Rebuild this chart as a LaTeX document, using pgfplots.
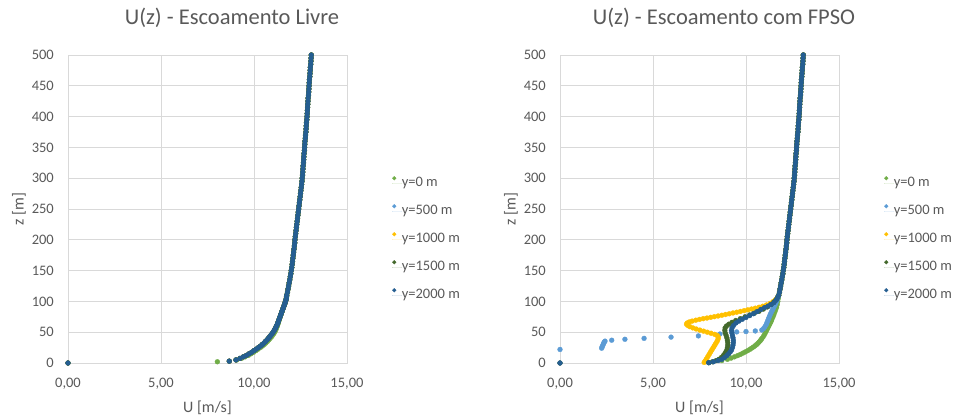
\documentclass[border=0pt]{standalone}
\usepackage{pgfplots}
\pgfplotsset{compat=1.18}
\usepackage{pgfplotstable}
\usepackage{fontspec}
\setmainfont{Carlito}
\definecolor{cgreen}{HTML}{70AD47}
\definecolor{cblue}{HTML}{5B9BD5}
\definecolor{cgold}{HTML}{FFC000}
\definecolor{cdgreen}{HTML}{43682B}
\definecolor{cdblue}{HTML}{255E91}
\definecolor{txt}{HTML}{595959}
\definecolor{gridc}{HTML}{D9D9D9}

% upper profile (z >= 110 m), common to all series
\pgfplotstableread{
U z
11.76 110
11.80 115
11.83 120
11.86 125
11.89 130
11.92 135
11.95 140
11.98 145
12.00 150
12.03 155
12.05 160
12.07 165
12.09 170
12.11 175
12.13 180
12.15 185
12.17 190
12.19 195
12.20 200
12.22 205
12.24 210
12.26 215
12.28 220
12.30 225
12.32 230
12.34 235
12.36 240
12.38 245
12.40 250
12.42 255
12.44 260
12.46 265
12.48 270
12.50 275
12.52 280
12.54 285
12.56 290
12.58 295
12.59 300
12.61 305
12.62 310
12.63 315
12.64 320
12.66 325
12.67 330
12.68 335
12.69 340
12.71 345
12.72 350
12.73 355
12.74 360
12.76 365
12.77 370
12.79 375
12.80 380
12.81 385
12.82 390
12.84 395
12.85 400
12.86 405
12.87 410
12.88 415
12.89 420
12.90 425
12.91 430
12.93 435
12.94 440
12.95 445
12.96 450
12.97 455
12.98 460
13.00 465
13.01 470
13.02 475
13.03 480
13.05 485
13.06 490
13.07 495
13.08 500
}\upper

% free flow, lower part
\pgfplotstableread{
U z
0 0
8.67 3
9.03 5
9.25 7.5
9.43 10
9.60 12.5
9.74 15
9.88 17.5
10.00 20
10.12 22.5
10.24 25
10.35 27.5
10.45 30
10.54 32.5
10.62 35
10.70 37.5
10.77 40
10.84 42.5
10.91 45
10.97 47.5
11.03 50
11.08 52.5
11.13 55
11.17 57.5
11.21 60
11.25 62.5
11.28 65
11.31 67.5
11.34 70
11.37 72.5
11.40 75
11.43 77.5
11.46 80
11.49 82.5
11.52 85
11.55 87.5
11.58 90
11.61 92.5
11.64 95
11.67 97.5
11.69 100
11.72 102.5
11.74 105
11.75 107.5
}\Lbase

\pgfplotstableread{
U z
8.03 2
9.08 5
9.33 7.5
9.52 10
9.70 12.5
9.84 15
9.98 17.5
10.10 20
10.22 22.5
10.34 25
10.45 27.5
10.55 30
10.64 32.5
10.72 35
10.80 37.5
10.87 40
10.94 42.5
11.00 45
11.06 47.5
11.11 50
11.15 52.5
11.19 55
11.22 57.5
11.25 60
11.28 62.5
11.30 65
11.33 67.5
11.35 70
11.38 72.5
11.41 75
11.44 77.5
11.46 80
11.49 82.5
11.52 85
11.55 87.5
11.58 90
11.61 92.5
11.64 95
11.67 97.5
11.69 100
11.72 102.5
11.74 105
11.75 107.5
}\Lgreen

% flow with FPSO, lower parts
\pgfplotstableread{
U z
8.70 4
9.00 6
9.20 8
9.38 10
9.55 12
9.70 14
9.83 16
9.96 18
10.09 20
10.20 22
10.30 24
10.40 26
10.49 28
10.57 30
10.64 32
10.70 34
10.76 36
10.81 38
10.86 40
10.93 43
10.99 46
11.04 49
11.09 52
11.14 55
11.19 58
11.24 61
11.29 64
11.34 67
11.38 70
11.44 74
11.49 78
11.54 82
11.59 86
11.64 90
11.68 95
11.71 100
11.74 105
}\Rgreen

\pgfplotstableread{
U z
0 22
2.24 24
2.26 26
2.29 28
2.32 30
2.35 32
2.38 34
2.42 35.5
2.78 37
3.49 38.5
4.52 40
5.97 42
7.44 44
8.60 47
9.50 50.5
10.00 51
10.50 52
10.85 53.5
10.95 56
11.02 59
11.08 62
11.12 65
11.16 68
11.20 71
11.24 74
11.28 77
11.32 80
11.37 83
11.42 86
11.47 89
11.52 92
11.57 95
11.61 98
11.65 101
11.69 104
11.72 107
}\Rblue

\pgfplotstableread{
U z
7.75 1
7.80 3
7.86 6
7.92 9
7.98 12
8.04 15
8.10 18
8.16 21
8.22 24
8.28 27
8.34 30
8.40 33
8.46 36
8.50 39
8.51 42
8.46 44.5
8.32 46.5
8.12 48.3
7.92 50
7.72 51.7
7.52 53.4
7.32 55.2
7.14 57
6.98 59
6.87 61
6.80 63
6.84 65
6.95 66.6
7.10 68
7.30 69.5
7.50 70.8
7.70 72
7.90 73
8.10 74.1
8.30 75.2
8.50 76.3
8.70 77.5
8.90 78.7
9.10 79.9
9.30 81.2
9.50 82.4
9.70 83.7
9.90 85
10.10 86.3
10.30 87.6
10.50 89
10.70 90.5
10.90 92.2
11.10 94.2
11.30 96.8
11.45 99.5
11.58 102.5
11.68 106
}\Rgold

\pgfplotstableread{
U z
0 0
8.00 0.5
8.20 2
8.40 4
8.55 6
8.68 9
8.78 12
8.86 15
8.92 18
8.97 21
9.00 25
9.02 29
9.02 33
9.00 37
8.97 41
8.93 45
8.88 49
8.86 53
8.88 57
8.95 60
9.08 63
9.25 66
9.45 69
9.70 72
9.95 75
10.20 78
10.45 81
10.70 84
10.93 87.5
11.15 91
11.35 95
11.50 99
11.62 103
11.70 107
}\Rdgreen

\pgfplotstableread{
U z
0 0
8.00 0.5
8.25 2
8.50 4
8.70 6
8.85 9
8.97 12
9.07 15
9.15 18
9.22 21
9.27 25
9.30 29
9.32 33
9.32 37
9.30 41
9.27 45
9.24 49
9.22 53
9.25 57
9.33 61
9.46 65
9.62 68
9.80 71
10.00 74
10.20 77
10.40 80
10.60 83.5
10.80 87
11.00 90
11.20 92.5
11.35 95
11.50 98
11.62 102
11.70 106
}\Rdblue

\pgfplotsset{
  excel/.style={
    scale only axis, width=279bp, height=308bp,
    xmin=0, xmax=15, ymin=0, ymax=500,
    clip=false,
    xtick={0,5,10,15}, xticklabels={{0,00},{5,00},{10,00},{15,00}},
    ytick={0,50,...,500},
    grid=major, major grid style={gridc, line width=0.75bp},
    axis line style={gridc, line width=0.75bp},
    major tick length=0pt,
    /pgf/number format/assume math mode=true,
    tick label style={font=\fontsize{14.5bp}{17bp}\selectfont, text=txt},
    yticklabel style={anchor=east, inner sep=0pt, xshift=-14bp},
    xticklabel style={anchor=north, inner sep=0pt, yshift=-15bp},
    xlabel={U [m/s]}, ylabel={z [m]},
    label style={font=\fontsize{16bp}{19bp}\selectfont, text=txt},
    xlabel style={at={([yshift=-49bp]axis description cs:0.5,0)}, anchor=base},
    ylabel style={at={([xshift=-49bp]axis description cs:0,0.5)}, anchor=center},
    title style={at={([xshift=24.5bp,yshift=25bp]axis description cs:0.5,1)}, anchor=base,
      font=\fontsize{22.5bp}{27bp}\selectfont, text=txt},
    legend style={at={(axis description cs:1.1613,0.606)}, anchor=north west,
      draw=none, fill=none, inner sep=0pt, outer sep=0pt,
      font=\fontsize{14.5bp}{17bp}\selectfont, text=txt, row sep=15bp,
      nodes={inner sep=0pt, text height=10bp, text depth=3bp}},
    legend cell align=left,
    legend image code/.code={%
      \path (-2bp,0bp) rectangle (7.5bp,0bp);
      \draw[#1, mark size=1.9bp] plot coordinates {(0bp,4.6bp)};},
    every axis plot/.append style={only marks, mark=*, mark size=2.45bp, line width=0.3bp},
  }
}

\begin{document}
\begin{tikzpicture}
\path[use as bounding box] (0,0) rectangle (954bp,419bp);
\begin{axis}[excel, at={(68bp,56bp)}, anchor=south west, title={U(z) - Escoamento Livre}]
\addplot[color=cgreen] table[x=U,y=z]{\Lgreen};
\addlegendentry{y=0 m}
\addplot[color=cgreen, forget plot] table[x=U,y=z]{\upper};
\addplot[color=cblue] table[x=U,y=z]{\Lbase};
\addlegendentry{y=500 m}
\addplot[color=cblue, forget plot] table[x=U,y=z]{\upper};
\addplot[color=cgold] table[x=U,y=z]{\Lbase};
\addlegendentry{y=1000 m}
\addplot[color=cgold, forget plot] table[x=U,y=z]{\upper};
\addplot[color=cdgreen] table[x=U,y=z]{\Lbase};
\addlegendentry{y=1500 m}
\addplot[color=cdgreen, forget plot] table[x=U,y=z]{\upper};
\addplot[color=cdblue] table[x=U,y=z]{\Lbase};
\addlegendentry{y=2000 m}
\addplot[color=cdblue, forget plot] table[x=U,y=z]{\upper};
\end{axis}
\begin{axis}[excel, at={(560bp,56bp)}, anchor=south west, title={U(z) - Escoamento com FPSO}]
\addplot[color=cgreen] table[x=U,y=z]{\Rgreen};
\addlegendentry{y=0 m}
\addplot[color=cgreen, forget plot] table[x=U,y=z]{\upper};
\addplot[color=cblue] table[x=U,y=z]{\Rblue};
\addlegendentry{y=500 m}
\addplot[color=cblue, forget plot] table[x=U,y=z]{\upper};
\addplot[color=cgold] table[x=U,y=z]{\Rgold};
\addlegendentry{y=1000 m}
\addplot[color=cgold, forget plot] table[x=U,y=z]{\upper};
\addplot[color=cdgreen] table[x=U,y=z]{\Rdgreen};
\addlegendentry{y=1500 m}
\addplot[color=cdgreen, forget plot] table[x=U,y=z]{\upper};
\addplot[color=cdblue] table[x=U,y=z]{\Rdblue};
\addlegendentry{y=2000 m}
\addplot[color=cdblue, forget plot] table[x=U,y=z]{\upper};
\end{axis}
\end{tikzpicture}
\end{document}
